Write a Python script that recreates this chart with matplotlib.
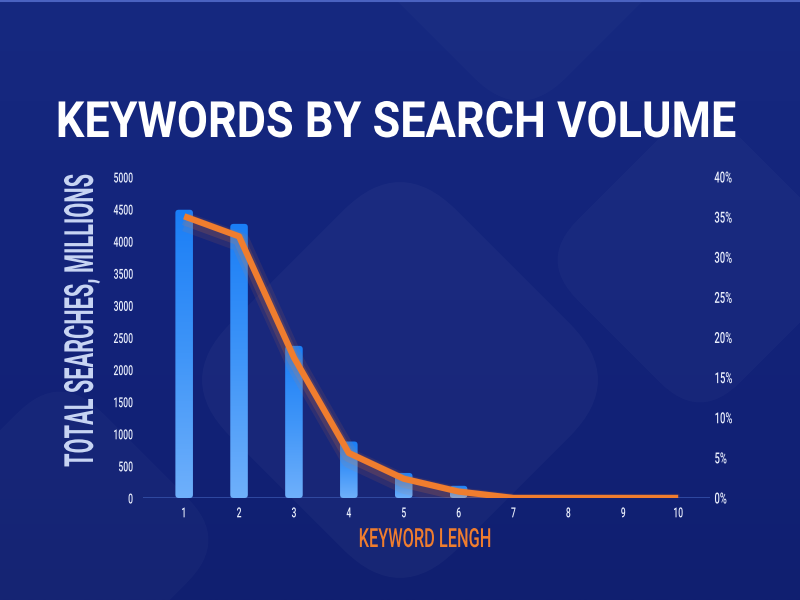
import matplotlib
matplotlib.use("Agg")
import matplotlib.pyplot as plt
import matplotlib.patheffects as pe
import numpy as np
from matplotlib.patches import FancyBboxPatch
from matplotlib.transforms import Affine2D
from matplotlib.colors import LinearSegmentedColormap

# data
lengths = [1, 2, 3, 4, 5, 6, 7, 8, 9, 10]
searches = [4490, 4270, 2370, 880, 390, 190, 0, 0, 0, 0]
share = [0.351, 0.326, 0.175, 0.056, 0.024, 0.008, 0.0, 0.0, 0.0, 0.0]
left_ticks = [0, 500, 1000, 1500, 2000, 2500, 3000, 3500, 4000, 4500, 5000]
right_ticks = [0, 0.05, 0.10, 0.15, 0.20, 0.25, 0.30, 0.35, 0.40]
right_labels = ["0%", "5%", "10%", "15%", "20%", "25%", "30%", "35%", "40%"]

BG = "#14247a"
ORANGE = "#f07d2e"
FONT = "Roboto"


class Condense(pe.AbstractPathEffect):
    """squeeze text horizontally (fake condensed font)"""
    def __init__(self, sx, anchor="center"):
        super().__init__()
        self.sx = sx
        self.anchor = anchor

    def draw_path(self, renderer, gc, tpath, affine, rgbFace=None):
        ext = tpath.get_extents()
        if self.anchor == "left":
            cx = ext.x0
        elif self.anchor == "right":
            cx = ext.x1
        else:
            cx = (ext.x0 + ext.x1) / 2
        t = Affine2D().translate(-cx, 0).scale(self.sx, 1).translate(cx, 0)
        renderer.draw_path(gc, tpath, t + affine, rgbFace)


fig = plt.figure(figsize=(8, 6), dpi=100)
fig.patch.set_facecolor(BG)

# background
bg = fig.add_axes([0, 0, 1, 1], zorder=-10)
bg.set_xlim(0, 800)
bg.set_ylim(600, 0)
bg.axis("off")
grad = np.linspace(0, 1, 256).reshape(-1, 1)
bgcmap = LinearSegmentedColormap.from_list("bg", ["#162980", "#13237a", "#101f70"])
bg.imshow(grad, cmap=bgcmap, extent=(0, 800, 600, 0), aspect="auto")
shapes = [(400, 380, 320, 0.03), (700, 260, 230, 0.025), (60, 540, 240, 0.022), (520, -60, 260, 0.02)]
for cx, cy, s, a in shapes:
    p = FancyBboxPatch((cx - s / 2, cy - s / 2), s, s, boxstyle="round,pad=0,rounding_size=%d" % (s * 0.25),
                       facecolor="white", edgecolor="none", alpha=a,
                       transform=Affine2D().rotate_deg_around(cx, cy, 45) + bg.transData)
    bg.add_patch(p)
bg.axhline(0.5, color="#4a62c0", lw=1.5)

# main axes
ax = fig.add_axes([143 / 800, 102 / 600, (710 - 143) / 800, (498 - 177) / 600])
ax.patch.set_alpha(0)
bars = ax.bar(lengths, searches, width=0.32, color="none", edgecolor="none", zorder=2)
barcmap = LinearSegmentedColormap.from_list("bar", ["#6fb0fb", "#3f95f8", "#1a7ef6"])
for b in bars:
    h = b.get_height()
    if h <= 0:
        continue
    x0, w = b.get_x(), b.get_width()
    clip = FancyBboxPatch((x0, 0), w, h, boxstyle="round,pad=0,rounding_size=0.06",
                          mutation_aspect=850, facecolor="none", edgecolor="none",
                          transform=ax.transData)
    ax.add_patch(clip)
    im = ax.imshow(grad[::-1], cmap=barcmap, extent=(x0, x0 + w, 0, h),
                   aspect="auto", zorder=2)
    im.set_clip_path(clip)

ax.axhline(0, color="#3550a8", lw=1.2, zorder=1)
ax.set_xlim(0.25, 10.58)
ax.set_ylim(0, 5000)
for s in ax.spines.values():
    s.set_visible(False)
ax.tick_params(length=0)
ax.set_yticks(left_ticks)
ylabs = ax.set_yticklabels([str(v) for v in left_ticks], fontsize=10, family=FONT,
                           fontweight="medium", color="#e9eefc")
ax.tick_params(axis="y", pad=7)
for t in ylabs:
    t.set_path_effects([Condense(0.62, "right")])
ax.set_xticks(lengths)
xlabs = ax.set_xticklabels([str(v) for v in lengths], fontsize=10, family=FONT,
                           fontweight="medium", color="#e9eefc")
ax.tick_params(axis="x", pad=6)
for t in xlabs:
    t.set_path_effects([Condense(0.62)])

# share line
ax2 = ax.twinx()
ax2.patch.set_alpha(0)
ax2.plot(lengths, share, color=ORANGE, lw=4.5, solid_capstyle="butt", zorder=5,
         path_effects=[pe.SimpleLineShadow(offset=(1, -4), shadow_color=ORANGE, alpha=0.1, linewidth=14),
                       pe.SimpleLineShadow(offset=(0, -2), shadow_color=ORANGE, alpha=0.16, linewidth=9),
                       pe.Normal()])
ax2.set_ylim(0, 0.40)
for s in ax2.spines.values():
    s.set_visible(False)
ax2.tick_params(length=0, pad=3)
ax2.set_yticks(right_ticks)
rlabs = ax2.set_yticklabels(right_labels, fontsize=11, family=FONT, fontweight="medium",
                            color="#e9eefc")
for t in rlabs:
    t.set_path_effects([Condense(0.62, "left")])

# texts
fig.text(396 / 800, (600 - 137) / 600, "KEYWORDS BY SEARCH VOLUME", ha="center", va="baseline",
         fontsize=36, family=FONT, fontweight="bold", color="white",
         path_effects=[Condense(0.9)])
fig.text(101 / 800, (600 - 321) / 600, "TOTAL SEARCHES, MILLIONS", rotation=90, ha="right", va="center",
         fontsize=29, family=FONT, fontweight="bold", color="#c7d4f3",
         path_effects=[Condense(0.54)])
fig.text(425 / 800, (600 - 547) / 600, "KEYWORD LENGH", ha="center", va="baseline",
         fontsize=19, family=FONT, fontweight="medium", color=ORANGE,
         path_effects=[Condense(0.62)])

fig.savefig("out.png", dpi=100, facecolor=BG)
